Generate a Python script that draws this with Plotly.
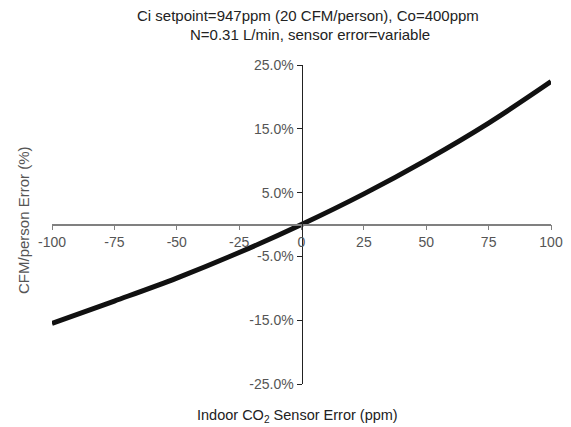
import plotly.graph_objects as go

# Data
sensor_error_ppm = [-100, -75, -50, -25, 0, 25, 50, 75, 100]
cfm_error = [-0.155, -0.120, -0.084, -0.044, 0.0, 0.048, 0.101, 0.159, 0.224]

x_ticks = [-100, -75, -50, -25, 0, 25, 50, 75, 100]
x_ticktext = ["-100", "-75", "-50", "-25", "0", "25", "50", "75", "100"]
y_ticks = [-0.25, -0.15, -0.05, 0.05, 0.15, 0.25]
y_ticktext = ["-25.0%", "-15.0%", "-5.0%", "5.0%", "15.0%", "25.0%"]

title_line1 = "Ci setpoint=947ppm (20 CFM/person), Co=400ppm"
title_line2 = "N=0.31 L/min, sensor error=variable"
x_title = "Indoor CO<sub>2</sub> Sensor Error (ppm)"
y_title = "CFM/person Error (%)"

font_family = "Liberation Sans, Arial, sans-serif"
W, H = 571, 427
L, R, T, B = 52, 20, 65, 43

def py(px):
    # convert pixel row from top into paper fraction
    return 1 - (px - T) / (H - T - B)

def px_x(px):
    return (px - L) / (W - L - R)

fig = go.Figure()
fig.add_trace(go.Scatter(
    x=sensor_error_ppm, y=cfm_error, mode="lines",
    line=dict(color="#111111", width=5, shape="spline"),
    showlegend=False, hoverinfo="skip",
))

fig.update_layout(
    width=W, height=H,
    margin=dict(l=L, r=R, t=T, b=B, autoexpand=False),
    paper_bgcolor="white", plot_bgcolor="white",
    font=dict(family=font_family, size=14, color="#404040"),
    xaxis=dict(
        range=[-100, 100], tickvals=x_ticks, ticktext=x_ticktext,
        showgrid=False, zeroline=False, showline=True, linecolor="#808080", linewidth=1.5,
        ticks="outside", ticklen=5, tickcolor="#808080",
        anchor="free", position=0.5, automargin=False,
        tickfont=dict(size=14, color="#555555"),
    ),
    yaxis=dict(
        range=[-0.25, 0.25], tickvals=y_ticks, ticktext=y_ticktext,
        showgrid=False, zeroline=False, showline=True, linecolor="#222222", linewidth=1,
        ticks="outside", ticklen=5, tickcolor="#222222",
        anchor="free", position=0.5, automargin=False,
        tickfont=dict(size=14, color="#555555"),
    ),
    annotations=[
        dict(text=title_line1, xref="paper", yref="paper", x=px_x(308), y=py(15),
             xanchor="center", yanchor="middle", showarrow=False,
             font=dict(family=font_family, size=15, color="#222222")),
        dict(text=title_line2, xref="paper", yref="paper", x=px_x(310), y=py(34),
             xanchor="center", yanchor="middle", showarrow=False,
             font=dict(family=font_family, size=15, color="#222222")),
        dict(text=x_title, xref="paper", yref="paper", x=px_x(297), y=py(416),
             xanchor="center", yanchor="middle", showarrow=False,
             font=dict(family=font_family, size=14.5, color="#222222")),
        dict(text=y_title, xref="paper", yref="paper", x=px_x(23), y=py(220),
             xanchor="center", yanchor="middle", textangle=-90, showarrow=False,
             font=dict(family=font_family, size=15, color="#555555")),
    ],
)

fig.write_html("out.html", config={"displayModeBar": False},
               post_script="document.body.style.margin='0';document.body.style.overflow='hidden';")
